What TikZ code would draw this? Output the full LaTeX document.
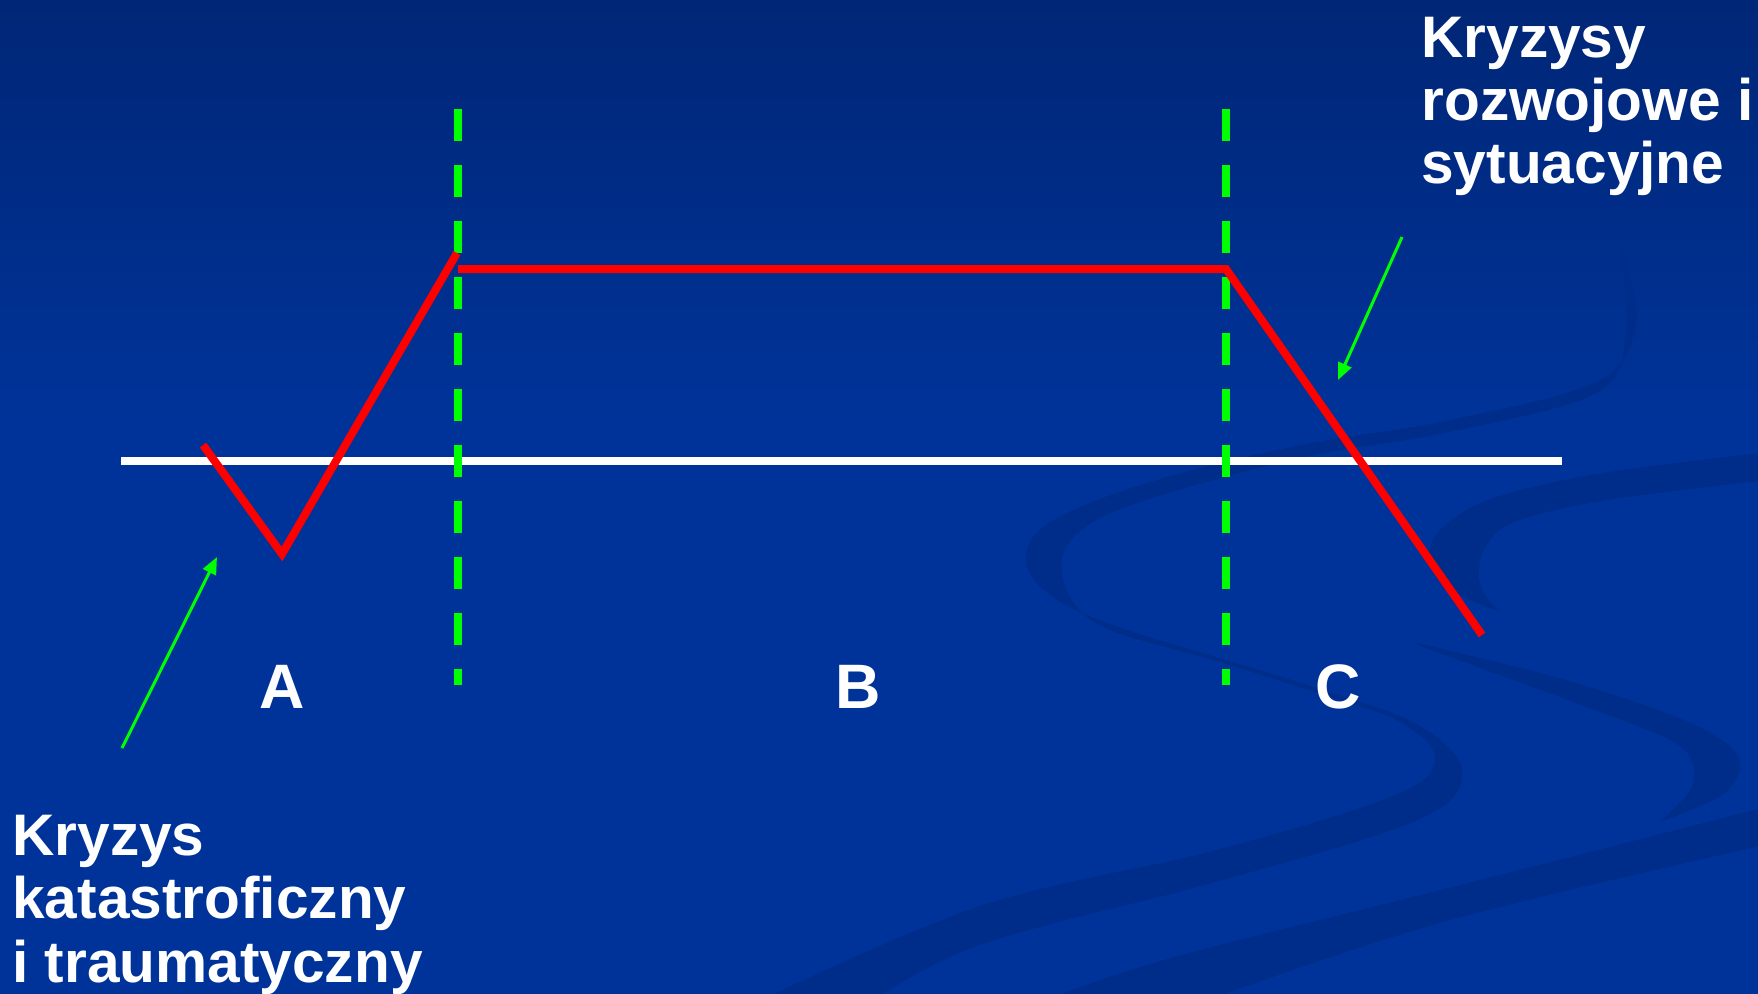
\documentclass[tikz,border=0pt]{standalone}
\usepackage{fontspec}
\setmainfont{Liberation Sans}
\usetikzlibrary{arrows.meta}
\definecolor{bgblue}{RGB}{0,51,153}
\definecolor{bgtop}{RGB}{0,38,118}
\definecolor{swooshblue}{RGB}{0,45,138}
\definecolor{brightgreen}{RGB}{0,255,0}
\begin{document}
\begin{tikzpicture}[x=0.5pt,y=-0.5pt,
  curve/.style={red, line width=4pt},
  baseline axis/.style={white, line width=4pt},
  guide/.style={brightgreen, line width=4pt, dash pattern=on 16pt off 12pt},
  pointer/.style={brightgreen, line width=1.5pt, -{Triangle[length=8.5pt,width=7pt]}},
  caption/.style={text=white, font=\bfseries\fontsize{29.3}{31.5}\selectfont, align=left, inner sep=0pt, anchor=base west},
  region/.style={text=white, font=\bfseries\fontsize{31.4}{33}\selectfont, inner sep=0pt, anchor=base},
  swoosh/.style={fill=swooshblue}]
\useasboundingbox (0,0) rectangle (1758,993);
% background
\fill[bgblue] (-6,-6) rectangle (1764,1000);
\shade[top color=bgtop, bottom color=bgblue] (-6,-6) rectangle (1764,420);
\begin{scope}
\clip (-6,-6) rectangle (1764,1000);
% big S swoosh
\fill[swoosh] plot[smooth, tension=0.6] coordinates {(1622,250) (1636,320) (1600,380) (1450,420) (1300,445) (1150,482) (1050,522) (1026,560) (1050,595) (1110,624) (1216,657) (1330,692) (1420,726) (1462,772) (1418,820) (1216,882) (977,946) (860,1010)}
  -- plot[smooth, tension=0.6] coordinates {(740,1010) (977,907) (1216,850) (1395,795) (1435,758) (1400,722) (1330,697) (1216,661) (1110,630) (1072,600) (1062,560) (1082,530) (1140,502) (1300,458) (1450,432) (1598,392) (1626,330) (1620,252)} -- cycle;
% right middle swoosh
\fill[swoosh] plot[smooth, tension=0.6] coordinates {(1770,452) (1608,472) (1496,497) (1445,525) (1429,553) (1440,582) (1473,601) (1500,612)}
  -- plot[smooth, tension=0.6] coordinates {(1500,612) (1485,595) (1479,575) (1485,548) (1515,522) (1608,500) (1770,480)} -- cycle;
% lower right swoosh
\fill[swoosh] plot[smooth, tension=0.6] coordinates {(1417,643) (1552,676) (1664,712) (1722,740) (1740,765) (1722,795) (1660,822)}
  -- plot[smooth, tension=0.6] coordinates {(1660,822) (1690,790) (1692,762) (1670,740) (1600,712) (1417,645)} -- cycle;
% bottom band
\fill[swoosh] plot[smooth, tension=0.6] coordinates {(1770,806) (1440,890) (1160,961) (1020,1010)}
  -- plot[smooth, tension=0.6] coordinates {(1180,1010) (1440,923) (1770,844)} -- cycle;
\end{scope}
% coordinates
\coordinate (axL) at (121,461);
\coordinate (axR) at (1562,461);
\coordinate (gAtop) at (458,109);
\coordinate (gAbot) at (458,685);
\coordinate (gBtop) at (1226,109);
\coordinate (gBbot) at (1226,685);
\coordinate (v0) at (203,445);
\coordinate (v1) at (282,554);
\coordinate (v2) at (457,253);
\coordinate (h0) at (458,269);
\coordinate (h1) at (1226,269);
\coordinate (h2) at (1482,635);
\coordinate (p1s) at (122,748);
\coordinate (p1e) at (217,557);
\coordinate (p2s) at (1402,237);
\coordinate (p2e) at (1338,380);
% axis and guides
\draw[baseline axis] (axL) -- (axR);
\draw[guide] (gAtop) -- (gAbot);
\draw[guide] (gBtop) -- (gBbot);
% red curve
\draw[curve] (v0) -- (v1) -- (v2);
\draw[curve] (h0) -- (h1) -- (h2);
% pointers
\draw[pointer] (p1s) -- (p1e);
\draw[pointer] (p2s) -- (p2e);
% labels
\node[region] (A) at (282,708) {A};
\node[region] (B) at (858,708) {B};
\node[region] (C) at (1338,708) {C};
\node[caption] (right) at (1421,183) {Kryzysy\\rozwojowe i\\sytuacyjne};
\node[caption, font=\bfseries\fontsize{29.3}{31.75}\selectfont] (left) at (12,982) {Kryzys\\katastroficzny\\i traumatyczny};
\end{tikzpicture}
\end{document}
